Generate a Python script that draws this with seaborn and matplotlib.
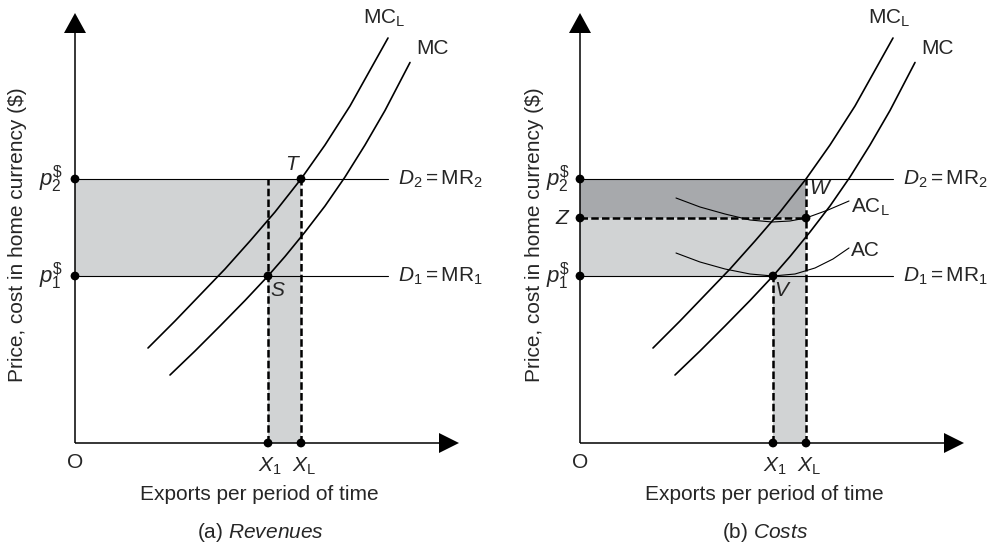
import numpy as np
import pandas as pd
import matplotlib
matplotlib.use("Agg")
import matplotlib.pyplot as plt
import seaborn as sns

# price / quantity levels (same in both panels)
p1 = 16.7
p2 = 26.4
z_level = 22.5
x1 = 19.3
xl = 22.6
demand_end = 31.3

# cost curves
mcl_x = [7.3, 10.0, 12.5, 15.0, 17.5, 20.0, 22.6, 25.0, 27.5, 31.3]
mcl_y = [9.5, 12.2, 14.8, 17.4, 20.2, 23.1, 26.4, 29.8, 33.7, 40.5]
mc_x = [9.5, 12.0, 14.5, 17.0, 19.3, 21.0, 23.0, 25.0, 27.0, 29.0, 31.0, 33.5]
mc_y = [6.8, 9.2, 11.7, 14.25, 16.7, 18.65, 21.1, 23.7, 26.6, 29.8, 33.25, 38.05]
acl_x = [9.6, 12.0, 14.5, 17.0, 19.2, 21.0, 22.6, 24.8, 26.9]
acl_y = [24.5, 23.6, 22.9, 22.3, 22.1, 22.2, 22.5, 23.3, 24.2]
ac_x = [9.6, 12.0, 14.5, 17.0, 19.3, 21.5, 23.5, 25.3, 26.9]
ac_y = [19.0, 18.1, 17.4, 16.9, 16.7, 16.9, 17.5, 18.4, 19.5]

LIGHT = "#d1d3d4"
DARK = "#a7a9ac"

sns.set_theme(style="white")
plt.rcParams["font.family"] = ["Liberation Sans", "DejaVu Sans"]
plt.rcParams["mathtext.fontset"] = "custom"
plt.rcParams["mathtext.rm"] = "Liberation Sans"
plt.rcParams["mathtext.it"] = "Liberation Sans:italic"
plt.rcParams["mathtext.bf"] = "Liberation Sans:bold"

FS = 15
fig = plt.figure(figsize=(9.88, 5.43), dpi=100)
ax_a = fig.add_axes([0, 0, 0.5, 1])
ax_b = fig.add_axes([0.5, 0, 0.5, 1])
ax_a.set_xlim(-7.5, 41.9)
ax_b.set_xlim(-8.6, 40.8)


def base(ax, ylab_x, caption, plab_x):
    ax.set_ylim(-10.0, 44.3)
    ax.axis("off")
    # axes with arrow heads
    ax.plot([0, 0], [0, 41.2], color="black", lw=1.1, solid_capstyle="butt")
    ax.plot([0, 36.6], [0, 0], color="black", lw=1.1, solid_capstyle="butt")
    ax.fill([-1.1, 1.1, 0], [41.0, 41.0, 43.0], color="black", lw=0)
    ax.fill([36.4, 36.4, 38.4], [-1.0, 1.0, 0], color="black", lw=0)
    # demand lines
    for lev in (p1, p2):
        ax.plot([0, demand_end], [lev, lev], color="black", lw=0.8)
    ax.text(0, -1.9, "O", fontsize=FS, ha="center", va="center")
    ax.text(x1 + 0.2, -2.3, "$X_1$", fontsize=FS, ha="center", va="center")
    ax.text(xl + 0.3, -2.3, r"$X_\mathrm{L}$", fontsize=FS, ha="center", va="center")
    ax.text(18.4, -5.2, "Exports per period of time", fontsize=FS, ha="center", va="center")
    ax.text(18.5, -8.9, caption, fontsize=FS, ha="center", va="center")
    ax.text(ylab_x, 20.8, r"Price, cost in home currency (\$)", fontsize=FS,
            rotation=90, ha="center", va="center")
    ax.text(plab_x, p2, r"$p_2^{\$}$", fontsize=FS + 1, ha="right", va="center")
    ax.text(plab_x, p1, r"$p_1^{\$}$", fontsize=FS + 1, ha="right", va="center")
    ax.text(32.3, p2, r"$D_2\,\!=\,\!\mathrm{MR}_2$", fontsize=FS, ha="left", va="center")
    ax.text(32.3, p1, r"$D_1\,\!=\,\!\mathrm{MR}_1$", fontsize=FS, ha="left", va="center")
    ax.text(30.9, 42.5, r"MC$_\mathrm{L}$", fontsize=FS, ha="center", va="center")
    ax.text(35.7, 39.4, "MC", fontsize=FS, ha="center", va="center")
    # marginal cost curves
    sns.lineplot(x=mcl_x, y=mcl_y, sort=False, estimator=None, color="black", lw=1.2, ax=ax)
    sns.lineplot(x=mc_x, y=mc_y, sort=False, estimator=None, color="black", lw=1.2, ax=ax)


dash = (0, (3.0, 1.3))

# (a) Revenues
ax = ax_a
ax.fill_between([0, xl], p1, p2, color=LIGHT, lw=0)
ax.fill_between([x1, xl], 0, p1, color=LIGHT, lw=0)
base(ax, -5.7, r"(a) $\mathit{Revenues}$", -1.2)
ax.plot([x1, x1], [0, p2], color="black", lw=1.8, linestyle=dash)
ax.plot([xl, xl], [0, p2], color="black", lw=1.8, linestyle=dash)
dots_a = pd.DataFrame({"x": [0, 0, xl, x1, x1, xl], "y": [p2, p1, p2, p1, 0, 0]})
sns.scatterplot(data=dots_a, x="x", y="y", color="black", s=40, edgecolor="none",
                ax=ax, zorder=5, legend=False)
ax.text(21.8, 27.8, "$T$", fontsize=FS, ha="center", va="center")
ax.text(20.3, 15.2, "$S$", fontsize=FS, ha="center", va="center")

# (b) Costs
ax = ax_b
ax.fill_between([0, xl], z_level, p2, color=DARK, lw=0)
ax.fill_between([0, xl], p1, z_level, color=LIGHT, lw=0)
ax.fill_between([x1, xl], 0, p1, color=LIGHT, lw=0)
base(ax, -4.6, r"(b) $\mathit{Costs}$", -1.0)
sns.lineplot(x=acl_x, y=acl_y, sort=False, estimator=None, color="black", lw=0.8, ax=ax)
sns.lineplot(x=ac_x, y=ac_y, sort=False, estimator=None, color="black", lw=0.8, ax=ax)
ax.plot([x1, x1], [0, p1], color="black", lw=1.8, linestyle=dash)
ax.plot([xl, xl], [0, p2], color="black", lw=1.8, linestyle=dash)
ax.plot([0, xl], [z_level, z_level], color="black", lw=1.8, linestyle=dash)
dots_b = pd.DataFrame({"x": [0, 0, 0, xl, x1, x1, xl],
                       "y": [p2, z_level, p1, z_level, p1, 0, 0]})
sns.scatterplot(data=dots_b, x="x", y="y", color="black", s=40, edgecolor="none",
                ax=ax, zorder=5, legend=False)
ax.text(-0.9, z_level, "$Z$", fontsize=FS, ha="right", va="center")
ax.text(22.9, 25.5, "$W$", fontsize=FS, ha="left", va="center")
ax.text(19.4, 15.2, "$V$", fontsize=FS, ha="left", va="center")
ax.text(27.1, 23.6, r"AC$_\mathrm{L}$", fontsize=FS, ha="left", va="center")
ax.text(27.1, 19.2, "AC", fontsize=FS, ha="left", va="center")

fig.savefig("out.png", dpi=100)
